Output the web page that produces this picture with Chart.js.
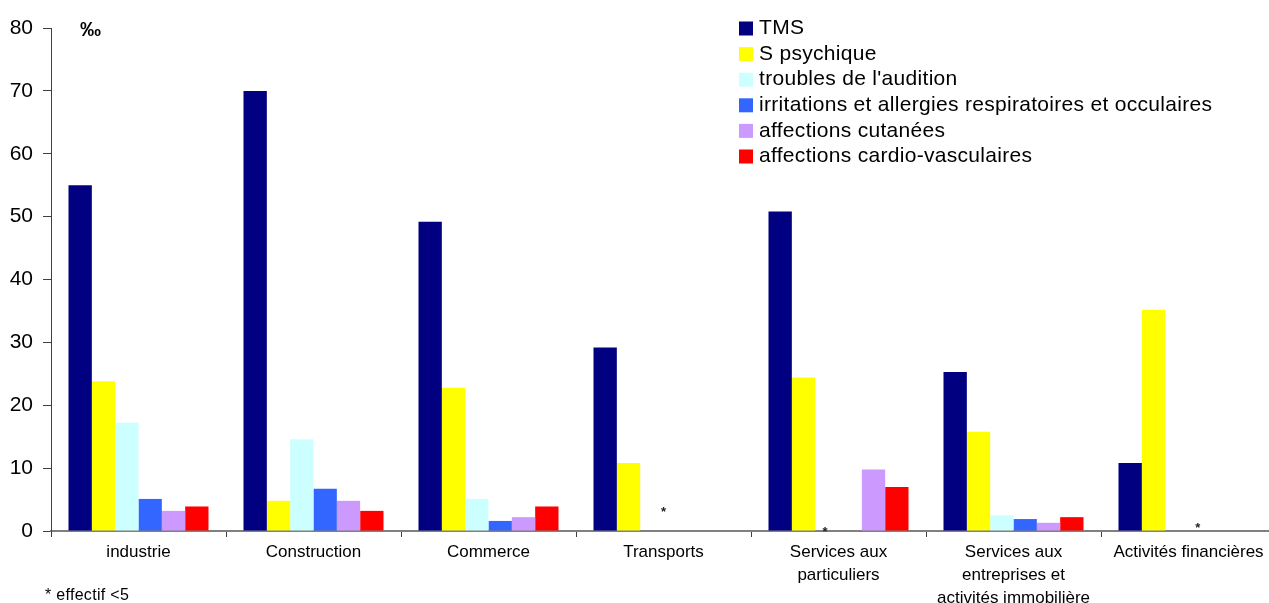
<!DOCTYPE html>
<html lang="fr">
<head>
<meta charset="utf-8">
<title>Maladies à caractère professionnel par secteur</title>
<script src="https://cdn.jsdelivr.net/npm/chart.js@4.4.1/dist/chart.umd.min.js"></script>
<style>
  html, body { margin: 0; padding: 0; background: #fff; overflow: hidden; }
  #wrap { width: 1278px; height: 603px; }
</style>
</head>
<body>
<div id="wrap"><canvas id="mcp" width="1278" height="603"></canvas></div>
<script>
// secteurs
const sectors = [
  "industrie",
  "Construction",
  "Commerce",
  "Transports",
  ["Services aux", "particuliers"],
  ["Services aux", "entreprises et", "activités immobilière"],
  "Activités financières"
];

// taux pour 1000 salariés, null = effectif < 5
const tms          = [55.0, 70.0, 49.2, 29.2, 50.8, 25.3, 10.8];
const psychique    = [23.8,  4.8, 22.8, 10.8, 24.4, 15.8, 35.2];
const audition     = [17.2, 14.6,  5.1, null, null,  2.5, null];
const irritations  = [ 5.1,  6.7,  1.6, null, null,  1.9, null];
const cutanees     = [ 3.2,  4.8,  2.2, null,  9.8,  1.3, null];
const cardio       = [ 3.9,  3.2,  3.9, null,  7.0,  2.2, null];

const seriesNames = [
  "TMS",
  "S psychique",
  "troubles de l'audition",
  "irritations et allergies respiratoires et occulaires",
  "affections cutanées",
  "affections cardio-vasculaires"
];
const seriesColors = ["#000080", "#FFFF00", "#CCFFFF", "#3366FF", "#CC99FF", "#FF0000"];

const yTicks = [0, 10, 20, 30, 40, 50, 60, 70, 80];

// renvois "*" : secteur, hauteur, décalage dans la catégorie
const starSector = [3, 4, 6];
const starValue  = [3.6, 0.4, 1.1];
const starShift  = [0, -0.077, 0.053];

const FONT = "'Liberation Sans', Arial, sans-serif";

const extras = {
  id: "extras",
  afterDraw(chart) {
    const { ctx, chartArea, scales } = chart;
    const x = scales.x, y = scales.y;
    ctx.save();

    // légende en haut à droite
    ctx.font = "21px " + FONT;
    ctx.letterSpacing = "0.3px";
    ctx.textBaseline = "middle";
    ctx.textAlign = "left";
    chart.data.datasets.forEach((ds, i) => {
      const cy = chartArea.top + 0.5 + i * 25.6;
      ctx.fillStyle = ds.backgroundColor;
      ctx.fillRect(739, cy - 7, 14, 14);
      ctx.fillStyle = "#000";
      ctx.fillText(ds.label, 759, cy);
    });
    ctx.letterSpacing = "0px";

    // unité
    ctx.font = "bold 21px " + FONT;
    ctx.fillText("‰", chartArea.left + 29, chartArea.top + 2);

    // astérisques
    const catW = (x.right - x.left) / sectors.length;
    ctx.font = "bold 13px " + FONT;
    ctx.textAlign = "center";
    ctx.textBaseline = "alphabetic";
    ctx.fillStyle = "#222";
    starSector.forEach((s, i) => {
      const px = x.getPixelForValue(s) + starShift[i] * catW;
      const py = y.getPixelForValue(starValue[i]);
      ctx.fillText("*", px, py + 7.5);
    });

    // note de bas de page
    ctx.font = "16px " + FONT;
    ctx.letterSpacing = "0.3px";
    ctx.textAlign = "left";
    ctx.textBaseline = "middle";
    ctx.fillStyle = "#000";
    ctx.fillText("* effectif <5", 45, 596);

    ctx.restore();
  }
};

const values = [tms, psychique, audition, irritations, cutanees, cardio];

new Chart(document.getElementById("mcp"), {
  type: "bar",
  data: {
    labels: sectors,
    datasets: values.map((v, i) => ({
      label: seriesNames[i],
      data: v,
      backgroundColor: seriesColors[i],
      borderWidth: 0,
      categoryPercentage: 0.8,
      barPercentage: 1.0
    }))
  },
  options: {
    responsive: false,
    animation: false,
    events: [],
    layout: { padding: { top: 28, right: 2, left: 0, bottom: 0 } },
    plugins: {
      legend: { display: false },
      tooltip: { enabled: false }
    },
    scales: {
      x: {
        offset: true,
        grid: {
          display: true,
          drawOnChartArea: false,
          drawTicks: true,
          tickLength: 6,
          color: "#404040",
          offset: true
        },
        border: { display: true, color: "#808080", width: 2 },
        ticks: {
          color: "#000",
          padding: 4,
          maxRotation: 0,
          autoSkip: false,
          font: { family: FONT, size: 17, lineHeight: 1.36 }
        },
        afterFit(scale) { scale.height = 72; }
      },
      y: {
        min: 0,
        max: 80,
        afterBuildTicks(scale) { scale.ticks = yTicks.map(v => ({ value: v })); },
        grid: {
          display: true,
          drawOnChartArea: false,
          drawTicks: true,
          tickLength: 8,
          color: "#404040"
        },
        border: { display: true, color: "#404040", width: 1 },
        ticks: {
          color: "#000",
          padding: 10,
          font: { family: FONT, size: 21 }
        },
        afterFit(scale) { scale.width = 51; }
      }
    }
  },
  plugins: [extras]
});
</script>
</body>
</html>
